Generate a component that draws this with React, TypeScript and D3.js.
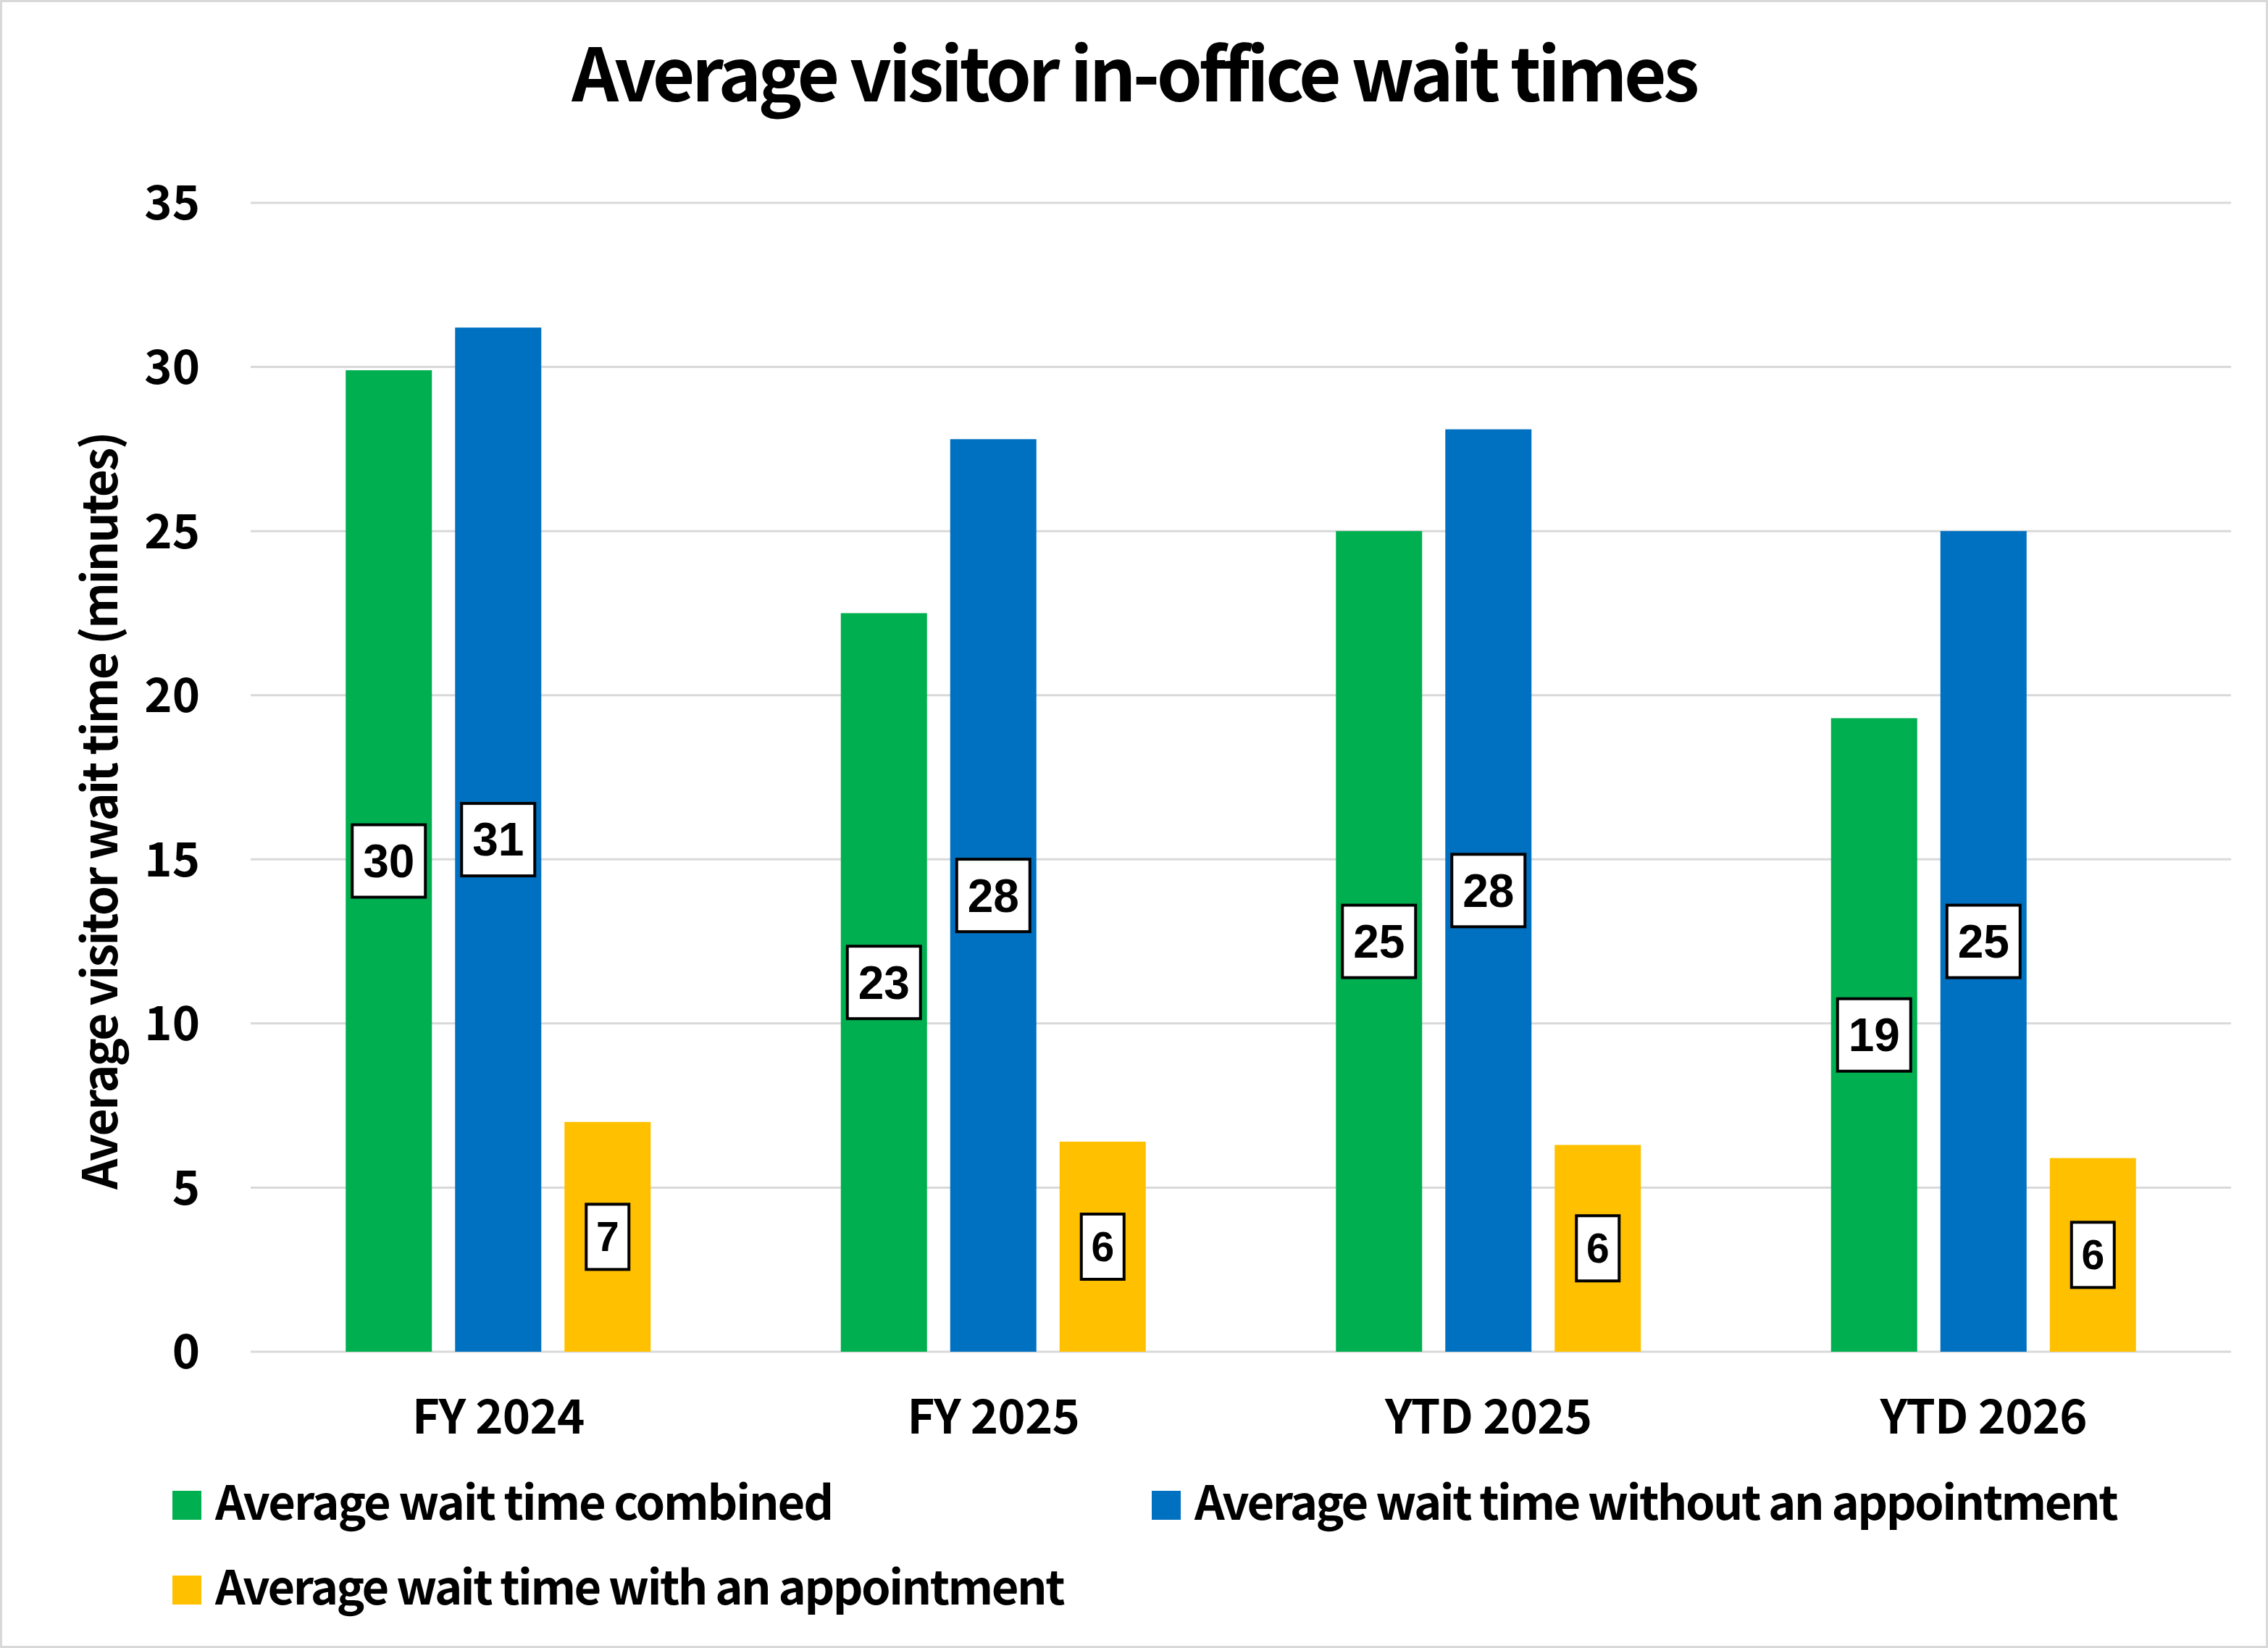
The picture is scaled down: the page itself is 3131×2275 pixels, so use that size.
import { scaleBand, scaleLinear } from "d3";

const categories = ["FY 2024", "FY 2025", "YTD 2025", "YTD 2026"];
const seriesNames = [
  "Average wait time combined",
  "Average wait time without an appointment",
  "Average wait time with an appointment",
];
const combined = [29.9, 22.5, 25.0, 19.3];
const withoutAppt = [31.2, 27.8, 28.1, 25.0];
const withAppt = [7.0, 6.4, 6.3, 5.9];
const yTicks = [0, 5, 10, 15, 20, 25, 30, 35];

const colors = ["#00B050", "#0070C0", "#FFC000"];
const seriesValues = [combined, withoutAppt, withAppt];

const W = 3131;
const H = 2275;
const textFont = "'Noto Sans CJK JP', 'Noto Sans', sans-serif";
const labelFont = "'Liberation Sans', Arial, sans-serif";

const App = () => {
  const plot = { left: 346, right: 3080, top: 280, bottom: 1866 };

  const x0 = scaleBand().domain(categories).range([plot.left, plot.right]);
  const groupWidth = 421;
  const x1 = scaleBand()
    .domain(seriesNames)
    .range([0, groupWidth])
    .paddingInner(0.212);
  const groupOffset = (x0.bandwidth() - groupWidth) / 2;

  const y = scaleLinear().domain([0, 35]).range([plot.bottom, plot.top]);

  // legend layout (two columns, wraps to a second row)
  const legendPos = [
    { x: 238, y: 2098, ls: -2.1 },
    { x: 1590, y: 2098, ls: -2.5 },
    { x: 238, y: 2215, ls: -2.5 },
  ];

  return (
    <>
      <style>{`body{margin:0}`}</style>
      <svg width={W} height={H} style={{ display: "block" }}>
        <rect x={1.5} y={1.5} width={W - 3} height={H - 3} fill="#fff" stroke="#D9D9D9" strokeWidth={3} />

        <text
          x={W / 2}
          y={140}
          textAnchor="middle"
          fontFamily={textFont}
          fontWeight="bold"
          fontSize={101}
          letterSpacing={-4.5}
        >
          Average visitor in-office wait times
        </text>

        {/* grid + y ticks */}
        {yTicks.map((t) => (
          <g key={`tick-${t}`}>
            <line x1={plot.left} x2={plot.right} y1={y(t)} y2={y(t)} stroke="#D9D9D9" strokeWidth={3} />
            <text
              x={276}
              y={y(t)}
              dy="0.36em"
              textAnchor="end"
              fontFamily={textFont}
              fontWeight="bold"
              fontSize={65}
            >
              {t}
            </text>
          </g>
        ))}

        <text
          transform={`translate(162, ${1120}) rotate(-90)`}
          textAnchor="middle"
          fontFamily={textFont}
          fontWeight="bold"
          fontSize={66}
          letterSpacing={-2.6}
        >
          Average visitor wait time (minutes)
        </text>

        {/* bars */}
        {categories.map((cat, ci) => (
          <g key={cat} transform={`translate(${x0(cat)! + groupOffset},0)`}>
            {seriesNames.map((s, si) => {
              const v = seriesValues[si][ci];
              return (
                <rect
                  key={s}
                  x={x1(s)}
                  y={y(v)}
                  width={x1.bandwidth()}
                  height={y(0) - y(v)}
                  fill={colors[si]}
                />
              );
            })}
          </g>
        ))}

        {/* data labels */}
        {categories.map((cat, ci) => (
          <g key={`lbl-${cat}`} transform={`translate(${x0(cat)! + groupOffset},0)`}>
            {seriesNames.map((s, si) => {
              const v = seriesValues[si][ci];
              const label = String(Math.round(v));
              const cx = x1(s)! + x1.bandwidth() / 2;
              const cy = (y(v) + y(0)) / 2;
              const twoDigit = label.length > 1;
              const bw = twoDigit ? 105 : 63;
              const bh = twoDigit ? 104 : 94;
              return (
                <g key={`l-${s}`}>
                  <rect
                    x={cx - bw / 2 + 2}
                    y={cy - bh / 2 + 2}
                    width={bw - 4}
                    height={bh - 4}
                    fill="#fff"
                    stroke="#000"
                    strokeWidth={4}
                  />
                  <text
                    x={cx}
                    y={cy}
                    dy="0.35em"
                    textAnchor="middle"
                    fontFamily={labelFont}
                    fontWeight="bold"
                    fontSize={twoDigit ? 64 : 57}
                  >
                    {label}
                  </text>
                </g>
              );
            })}
          </g>
        ))}

        {/* x labels */}
        {categories.map((cat) => (
          <text
            key={`x-${cat}`}
            x={x0(cat)! + x0.bandwidth() / 2}
            y={1979}
            textAnchor="middle"
            fontFamily={textFont}
            fontWeight="bold"
            fontSize={65}
            letterSpacing={-0.8}
          >
            {cat}
          </text>
        ))}

        {/* legend */}
        {seriesNames.map((s, si) => {
          const { x: lx, y: ly, ls } = legendPos[si];
          return (
            <g key={`leg-${s}`}>
              <rect x={lx} y={ly - 40} width={40} height={40} fill={colors[si]} />
              <text
                x={lx + 59}
                y={ly}
                fontFamily={textFont}
                fontWeight="bold"
                fontSize={65}
                letterSpacing={ls}
              >
                {s}
              </text>
            </g>
          );
        })}
      </svg>
    </>
  );
};

export default App;
